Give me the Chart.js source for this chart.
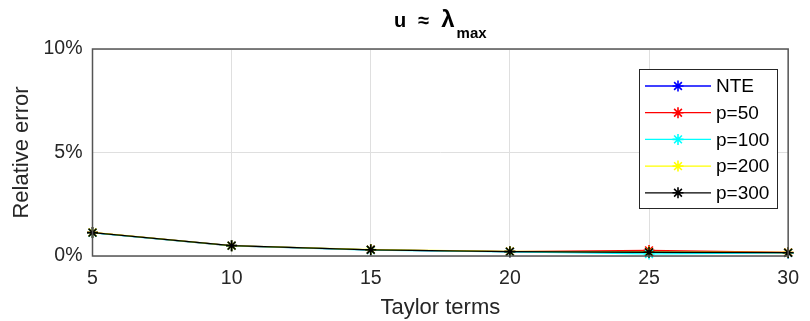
<!DOCTYPE html>
<html>
<head>
<meta charset="utf-8">
<script src="https://cdn.jsdelivr.net/npm/chart.js@4/dist/chart.umd.min.js"></script>
<style>
  html, body { margin: 0; padding: 0; background: #fff; }
  #wrap { width: 810px; height: 321px; }
</style>
</head>
<body>
<div id="wrap"><canvas id="myChart" width="810" height="321"></canvas></div>
<script>
// Taylor terms on x, relative error (%) on y
const terms = [5, 10, 15, 20, 25, 30];
const nte  = [1.13, 0.50, 0.30, 0.21, 0.19, 0.16];
const p50  = [1.13, 0.49, 0.30, 0.21, 0.27, 0.17];
const p100 = [1.12, 0.49, 0.29, 0.20, 0.10, 0.15];
const p200 = [1.14, 0.50, 0.31, 0.22, 0.20, 0.17];
const p300 = [1.13, 0.50, 0.30, 0.21, 0.18, 0.16];
const seriesNames = ['NTE', 'p=50', 'p=100', 'p=200', 'p=300'];
const seriesColors = ['#0000ff', '#ff0000', '#00ffff', '#ffff00', '#000000'];
const yTicks = [0, 5, 10];

const txt = '#262626';
const fontFam = '"Liberation Sans", Arial, sans-serif';

function pts(vals) {
  return terms.map(function(t, i) { return {x: t, y: vals[i]}; });
}

const allVals = [nte, p50, p100, p200, p300];
const datasets = allVals.map(function(v, i) {
  return {
    label: seriesNames[i],
    data: pts(v),
    borderColor: seriesColors[i],
    backgroundColor: seriesColors[i],
    borderWidth: 1.3,
    pointStyle: 'star',
    pointRadius: 5.5,
    pointBorderWidth: 1.6,
    pointBorderColor: seriesColors[i],
    tension: 0,
    clip: false,
    order: 5 - i
  };
});

function drawStar(ctx, x, y, r) {
  ctx.beginPath();
  ctx.moveTo(x - r, y); ctx.lineTo(x + r, y);
  ctx.moveTo(x, y - r); ctx.lineTo(x, y + r);
  const d = r * Math.SQRT1_2;
  ctx.moveTo(x - d, y - d); ctx.lineTo(x + d, y + d);
  ctx.moveTo(x - d, y + d); ctx.lineTo(x + d, y - d);
  ctx.stroke();
}

// matlab-ish frame, title and legend box
const matlabBits = {
  id: 'matlabBits',
  afterDraw(chart) {
    const ctx = chart.ctx;
    const a = chart.chartArea;
    ctx.save();
    // box round the axes
    ctx.strokeStyle = '#555';
    ctx.lineWidth = 1.5;
    ctx.strokeRect(a.left, a.top, a.right - a.left, a.bottom - a.top);

    // title  u ≈ λ_max
    ctx.fillStyle = '#000';
    ctx.textBaseline = 'alphabetic';
    ctx.textAlign = 'left';
    const big = 'bold 20px ' + fontFam;
    const lam = 'bold 24px ' + fontFam;
    const small = 'bold 15px ' + fontFam;
    const gap = 12;
    ctx.font = big;
    const wu = ctx.measureText('u').width;
    const wa = ctx.measureText('≈').width;
    ctx.font = lam;
    const wl = ctx.measureText('λ').width;
    ctx.font = small;
    const wm = ctx.measureText('max').width;
    const lamGap = 2;
    const total = wu + gap + wa + gap + wl + lamGap + wm;
    let x = (a.left + a.right) / 2 - total / 2;
    const base = 27;
    ctx.font = big;
    ctx.fillText('u', x, base); x += wu + gap;
    ctx.fillText('≈', x, base); x += wa + gap;
    ctx.font = lam;
    ctx.fillText('λ', x, base); x += wl + lamGap;
    ctx.font = small;
    ctx.fillText('max', x, base + 11);

    // legend
    const lx = 639, ly = 69, lw = 138, lh = 139;
    ctx.fillStyle = '#fff';
    ctx.fillRect(lx, ly, lw, lh);
    ctx.strokeStyle = txt;
    ctx.lineWidth = 1;
    ctx.strokeRect(lx + 0.5, ly + 0.5, lw, lh);
    ctx.font = '19px ' + fontFam;
    ctx.textBaseline = 'middle';
    chart.data.datasets.forEach(function(ds, i) {
      const yy = 86 + i * 26.7;
      ctx.strokeStyle = ds.borderColor;
      ctx.lineWidth = 1.3;
      ctx.beginPath();
      ctx.moveTo(lx + 6, yy); ctx.lineTo(lx + 72, yy);
      ctx.stroke();
      ctx.lineWidth = 1.6;
      drawStar(ctx, lx + 39, yy, 5.5);
      ctx.fillStyle = '#000';
      ctx.fillText(ds.label, lx + 77, yy + 1);
    });
    ctx.restore();
  }
};

const ctx = document.getElementById('myChart');
new Chart(ctx, {
  type: 'line',
  data: { datasets: datasets },
  options: {
    responsive: false,
    animation: false,
    layout: { padding: { left: 0, right: 12.5, top: 49, bottom: 0 } },
    plugins: {
      legend: { display: false },
      title: { display: false },
      tooltip: { enabled: false }
    },
    scales: {
      x: {
        type: 'linear',
        min: 5,
        max: 30,
        afterFit: function(s) { s.height = 65; },
        ticks: {
          stepSize: 5,
          color: txt,
          padding: 11,
          maxRotation: 0,
          font: { family: fontFam, size: 19.5 }
        },
        grid: { color: '#dfdfdf', drawTicks: false, lineWidth: 1 },
        border: { display: false },
        title: {
          display: true,
          text: 'Taylor terms',
          color: txt,
          padding: { top: 0, bottom: 0 },
          font: { family: fontFam, size: 22 }
        }
      },
      y: {
        min: 0,
        max: 10,
        afterFit: function(s) { s.width = 92.5; },
        afterBuildTicks: function(s) {
          s.ticks = yTicks.map(function(v) { return {value: v}; });
        },
        ticks: {
          color: txt,
          padding: 10,
          font: { family: fontFam, size: 19.5 },
          callback: function(v) { return v + '%'; }
        },
        grid: { color: '#dfdfdf', drawTicks: false, lineWidth: 1 },
        border: { display: false },
        title: {
          display: true,
          text: 'Relative error',
          color: txt,
          padding: { top: 9, bottom: 0 },
          font: { family: fontFam, size: 22 }
        }
      }
    }
  },
  plugins: [matlabBits]
});
</script>
</body>
</html>
